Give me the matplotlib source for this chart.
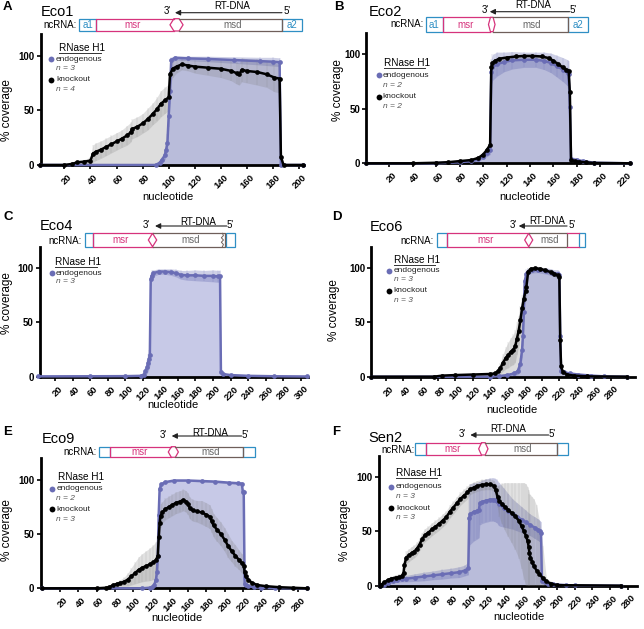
import numpy as np
import matplotlib
matplotlib.use('Agg')
import matplotlib.pyplot as plt
import matplotlib.transforms as mtransforms
from matplotlib.patches import Polygon, Rectangle

plt.rcParams['font.family'] = ['Liberation Sans', 'DejaVu Sans']

W, H = 644, 629

# ---------------- data: nucleotide position, mean % coverage, SD ----------------
# Eco1
eco1_ko_x = [1, 20, 26, 30, 35, 40, 42, 44, 48, 52, 56, 60, 64, 68, 71, 72, 76, 80, 84, 88, 91, 94, 97, 100,
             101, 103, 106, 110, 115, 120, 130, 140, 148, 152, 154, 156, 160, 168, 175, 181, 185, 186, 188, 203]
eco1_ko_y = [0, 0, 1, 2.5, 3, 4, 10.5, 12, 14, 16.5, 19, 21.5, 24, 27, 30, 33, 35, 38, 42, 47, 51, 56, 59, 62,
             83, 88, 90, 92, 91, 90, 89, 88, 86, 84, 83, 87, 86, 85, 83, 80, 79, 7.6, 0, 0]
eco1_ko_sd = [0, 0, 1, 1.5, 2, 3, 8, 8, 8, 8, 8, 8, 8, 9, 9, 9, 9, 9, 10, 10, 11, 12, 12, 12,
              10, 8, 6, 5, 5, 6, 7, 8, 9, 10, 10, 11, 11, 12, 12, 13, 13, 3, 0, 0]
eco1_en_x = [1, 90, 93, 95, 97, 98, 99, 100, 101, 102, 105, 115, 130, 150, 170, 180, 185, 186, 203]
eco1_en_y = [0, 0, 2, 5, 9, 14, 20, 45, 68, 96, 98, 97.5, 97, 96, 95, 94.5, 94, 0, 0]
eco1_en_sd = [0, 0, 1, 2, 4, 6, 8, 10, 12, 3, 2, 2, 2.5, 3, 3.5, 4, 4, 0, 0]

# Eco2
eco2_ko_x = [0, 40, 60, 70, 80, 90, 96, 100, 103, 106, 107, 108, 110, 114, 120, 128, 135, 142, 150, 156,
             160, 164, 168, 171, 173, 174, 175, 178, 182, 188, 195, 225]
eco2_ko_y = [0, 0, 0.5, 1, 2, 3, 5, 8, 12, 17, 88, 92, 94, 96, 97, 98, 98.5, 98.5, 98, 96.5,
             94, 91, 88, 86, 85, 65, 3, 2, 1.5, 0.8, 0.3, 0]
eco2_ko_sd = [0, 0, 0.3, 0.5, 0.8, 1, 1.5, 2, 2, 3, 3, 2.5, 2, 2, 1.5, 1.5, 1.5, 1.5, 1.5, 2,
              2, 2.5, 2.5, 2.5, 2.5, 5, 1, 1, 0.8, 0.5, 0.2, 0]
eco2_en_x = [0, 60, 80, 90, 96, 100, 103, 106, 107, 108, 112, 118, 125, 135, 145, 152, 158, 163, 168, 172,
             173, 174, 175, 180, 185, 195, 225]
eco2_en_y = [0, 0, 1, 2, 3.5, 6, 9, 12, 84, 88, 91, 93, 94.5, 95, 95, 94, 92, 89, 86, 83,
             82, 52, 4, 3, 2, 0.5, 0]
eco2_en_sd = [0, 0, 0.5, 1, 1.5, 2, 3, 4, 12, 12, 11, 9, 8, 7, 7, 8, 9, 10, 11, 12,
              12, 10, 2, 2, 1.5, 0.5, 0]

# Eco4
eco4_en_x = [1, 60, 100, 118, 121, 123, 125, 126, 127, 128, 129, 130, 132, 138, 145, 152, 158, 163, 170, 180,
             190, 200, 206, 208, 209, 211, 220, 240, 270, 307]
eco4_en_y = [0.3, 0.4, 0.5, 0.8, 2, 5, 9, 13, 16, 20, 90, 93, 95.5, 97, 97, 96.5, 95.5, 94, 93.5, 93.5,
             93, 93, 92.5, 92.5, 4.5, 2.5, 1.5, 0.8, 0.4, 0.2]
eco4_en_sd = [0.1, 0.1, 0.2, 0.3, 1, 3, 6, 8, 9, 10, 6, 5, 3, 2.5, 2.5, 3, 3.5, 4, 4.5, 5,
              5, 5.5, 5.5, 5.5, 1, 0.5, 0.3, 0.2, 0.1, 0.1]

# Eco6
eco6_ko_x = [3, 75, 85, 100, 120, 140, 146, 149, 152, 155, 158, 161, 164, 167, 169, 171, 173, 175, 177, 179,
             181, 182, 184, 187, 192, 198, 204, 210, 214, 218, 220, 221, 222, 224, 229, 237, 252, 298]
eco6_ko_y = [0, 0, 1, 1.5, 2, 2.5, 3, 5, 8, 13, 17, 20, 23, 25, 28, 35, 42, 52, 63, 72,
             79, 83, 97, 99.5, 100, 99.5, 98, 96.5, 95, 93.5, 92, 34, 9.5, 4.5, 2, 1, 0.3, 0]
eco6_ko_sd = [0, 0, 0.5, 0.5, 0.8, 1, 1.5, 3, 5, 8, 10, 12, 13, 14, 15, 15, 14, 13, 12, 10,
              8, 6, 3, 2, 2, 2, 2, 2.5, 2.5, 3, 3, 8, 3, 2, 1, 0.5, 0.2, 0]
eco6_en_x = [3, 140, 150, 160, 168, 172, 175, 177, 178, 179, 180, 182, 184, 188, 195, 205, 212, 218, 220, 221,
             222, 225, 232, 242, 257, 272, 298]
eco6_en_y = [0, 0, 0.5, 1.5, 3, 5, 12, 25, 38, 60, 88, 95, 97, 98, 98.5, 97.5, 96, 95, 94, 38,
             5, 4, 3, 2, 1, 0.3, 0]
eco6_en_sd = [0, 0, 0.3, 1, 2, 3, 5, 8, 10, 10, 8, 4, 3, 2.5, 2.5, 3, 3, 3.5, 3.5, 8,
              2, 2, 1.5, 1, 0.5, 0.2, 0]

# Eco9
eco9_ko_x = [0, 60, 70, 74, 78, 82, 86, 90, 94, 98, 102, 106, 110, 114, 118, 122, 125, 127, 128, 129,
             130, 132, 135, 139, 143, 147, 151, 155, 158, 160, 162, 165, 170, 175, 180, 184, 186, 188, 192, 196,
             200, 204, 208, 212, 216, 219, 221, 222, 223, 226, 230, 236, 245, 260, 275, 290]
eco9_ko_y = [0, 0, 0.5, 1, 3, 4, 5, 6, 8, 11, 14, 17, 19, 20.5, 22, 24, 26, 30, 47, 60,
             67, 70, 73, 75, 77, 79, 80, 81.5, 80, 78, 74, 72, 71, 70, 68, 66, 62, 58, 54, 50,
             45, 39, 34, 30, 26, 23, 21, 15, 11, 8, 5, 3, 2, 1, 0.5, 0]
eco9_ko_sd = [0, 0, 0.3, 0.5, 1, 2, 3, 4, 6, 8, 10, 12, 13, 14, 15, 16, 17, 17, 15, 12,
              11, 10, 10, 10, 10, 10, 10, 10, 10, 10, 10, 10, 10, 11, 11, 11, 11, 11, 11, 11,
              11, 11, 10, 10, 9, 9, 9, 5, 4, 3, 2, 1.5, 1, 0.5, 0.3, 0]
eco9_en_x = [0, 110, 118, 121, 123, 125, 126, 127, 128, 129, 131, 135, 145, 160, 175, 190, 205, 215, 219, 220,
             221, 222, 223, 226, 232, 240, 255, 290]
eco9_en_y = [0, 0, 0.5, 1, 3, 8, 15, 30, 68, 92, 96, 98, 99.5, 99.5, 99, 98.5, 97.5, 97, 96.5, 89,
             89, 4, 3, 2, 1, 0.5, 0, 0]
eco9_en_sd = [0, 0, 0.2, 0.5, 1, 2, 4, 6, 6, 3, 1.5, 1, 0.8, 0.8, 0.8, 1, 1, 1.2, 1.5, 3,
              3, 1, 0.8, 0.5, 0.3, 0.2, 0, 0]

# Sen2
sen2_ko_x = [0, 2, 5, 9, 13, 18, 22, 25, 27, 28, 30, 33, 36, 39, 42, 45, 48, 51, 55, 59,
             63, 67, 71, 75, 79, 83, 87, 91, 95, 99, 102, 106, 110, 115, 120, 125, 129, 131, 133, 135,
             138, 141, 145, 149, 153, 157, 160, 163, 165, 167, 168, 169, 170, 172, 174, 177, 180, 184, 188, 193,
             200, 272]
sen2_ko_y = [0, 1, 3, 5, 6.5, 7.5, 8, 8.5, 12, 19, 26, 28, 30, 31.5, 34, 38, 43, 46.5, 49, 52,
             54.5, 57, 60, 63, 68, 72, 76, 80, 83, 86, 89, 90.5, 92, 93, 93.5, 93.5, 92, 88, 82, 78,
             75.5, 73, 70, 67, 64, 60, 55, 50, 46, 41, 36, 30, 26, 22, 18, 14, 11, 7, 4, 2,
             0.5, 0]
sen2_ko_sd = [0, 0.5, 1, 1.5, 2, 2.5, 3, 3, 4, 5, 6, 6, 6, 6, 6, 6, 6, 6, 6, 6,
              6, 6, 6, 6, 6, 6, 6, 6, 6, 6, 5, 5, 5, 5, 5, 5, 5, 6, 10, 15,
              19, 22, 25, 28, 31, 35, 40, 45, 48, 50, 52, 55, 58, 60, 62, 60, 50, 30, 3, 2,
              0.5, 0]
sen2_en_x = [0, 5, 10, 15, 20, 25, 30, 40, 50, 60, 70, 80, 90, 96, 100, 101, 102, 106, 110, 112,
             113, 116, 120, 125, 128, 130, 132, 135, 140, 145, 150, 155, 160, 165, 170, 175, 179, 181, 182, 183,
             186, 190, 195, 200, 210, 220, 272]
sen2_en_y = [0, 1, 2.5, 4, 5, 6, 6.5, 7.5, 8.5, 9.5, 10.5, 11.5, 12.5, 14, 16, 62, 66, 68, 69, 70,
             76, 77.5, 78.5, 79.5, 79.5, 79, 78, 75, 72, 69, 66, 63.5, 61, 58.5, 56, 53.5, 51.5, 50, 49, 4,
             3, 2, 1.5, 1, 0.5, 0.2, 0]
sen2_en_sd = [0, 0.5, 1, 1.5, 2, 2.5, 3, 3.5, 4, 4, 4.5, 4.5, 5, 5, 6, 28, 28, 27, 26, 26,
              20, 20, 20, 20, 20, 20, 20, 20, 18, 16, 14, 13, 12, 11, 10, 10, 10, 10, 10, 2,
              1.5, 1, 0.8, 0.5, 0.3, 0.1, 0]

# ---------------- colours ----------------
ENDO = '#6a6db5'
ENDO_BAR = '#a2a6d8'
ENDO_ERR = '#5f64ad'
KO_BAR = '#b4b4b4'
KO_ERR = '#7a7a7a'
PINK = '#d6337c'
BLUE = '#2f8fc4'
BROWN = '#6f5f5a'

fig = plt.figure(figsize=(W / 100, H / 100), dpi=100)


def fx(px):
    return px / W


def fy(py):
    return 1 - py / H


def make_axes(left, right, top, bottom):
    return fig.add_axes([fx(left), fy(bottom), (right - left) / W, (bottom - top) / H])


def draw_bars(ax, x, y, color, z):
    ax.fill_between(x, 0, y, color=color, alpha=0.45 if color == KO_BAR else 0.6, lw=0, zorder=z)


def draw_err(ax, x, y, sd, color, z, alpha):
    y = np.asarray(y, float)
    sd = np.asarray(sd, float)
    lo = np.clip(y - sd, 0, None)
    hi = y + sd
    ax.fill_between(x, lo, hi, color=color, alpha=alpha, lw=0, zorder=z)
    ax.vlines(x, lo, hi, color=color, lw=0.35, alpha=0.35, zorder=z)


def draw_mean(ax, x, y, color, z):
    ax.plot(x, y, '-', color=color, lw=1.8, zorder=z, clip_on=False, solid_capstyle='round')
    ax.plot(x, y, 'o', color=color, ms=3.4, mec='none', zorder=z, clip_on=False)


def style_axes(ax, xlim, xt_max):
    ax.set_xlim(*xlim)
    ax.set_ylim(0, 120)
    ax.set_yticks([0, 50, 100])
    ax.set_xticks(np.arange(20, xt_max + 1, 20))
    for s in ['top', 'right']:
        ax.spines[s].set_visible(False)
    ax.spines['left'].set_linewidth(2)
    ax.spines['bottom'].set_linewidth(2)
    ax.tick_params(axis='y', length=3, width=1.2, pad=1.5, labelsize=7)
    ax.tick_params(axis='x', length=3, width=1.2, pad=1, labelsize=6.8)
    for lab in ax.get_yticklabels():
        lab.set_fontweight('bold')
    off = mtransforms.ScaledTranslation(3 / 100, -2 / 100, fig.dpi_scale_trans)
    for lab in ax.get_xticklabels():
        lab.set_rotation(45)
        lab.set_ha('right')
        lab.set_rotation_mode('anchor')
        lab.set_fontweight('bold')
        lab.set_transform(lab.get_transform() + off)


def draw_legend(ax, xdot, xtxt, xtitle, ys, ns, with_ko=True):
    ax.text(xtitle, ys[0], 'RNase H1', transform=ax.transAxes, fontsize=7.2, va='center', ha='left')
    ax.plot([xtitle, xtitle + 0.158], [ys[0] - 0.036] * 2, transform=ax.transAxes,
            color='#333333', lw=0.7, clip_on=False)
    rows = [('endogenous', ENDO, ys[1], ys[2], ns[0])]
    if with_ko:
        rows.append(('knockout', 'black', ys[3], ys[4], ns[1]))
    for lab, col, yl, yn, n in rows:
        ax.plot([xdot], [yl], 'o', ms=4.2, color=col, mec='none', transform=ax.transAxes, clip_on=False)
        ax.text(xtxt, yl, lab, transform=ax.transAxes, fontsize=6, va='center', ha='left', color='#222222')
        ax.text(xtxt, yn, f'n = {n}', transform=ax.transAxes, fontsize=6, va='center', ha='left',
                style='italic', color='#555555')


def draw_diagram(ax, seg, box_py, hex_frac, arrow, arrow_py, rt_py, ab_labels=False,
                 pink_tail=False, squiggle=False):
    tr = mtransforms.blended_transform_factory(ax.transData, fig.transFigure)
    yt, yb = fy(box_py[0]), fy(box_py[1])
    ym = (yt + yb) / 2
    s0, s1, s2, s3, s4, s5, s6 = seg
    kw = dict(transform=tr, clip_on=False)
    ax.add_patch(Rectangle((s0, yb), s1 - s0, yt - yb, fill=False, ec=BLUE, lw=0.9, **kw))
    ax.add_patch(Rectangle((s5, yb), s6 - s5, yt - yb, fill=False, ec=BLUE, lw=0.9, **kw))
    w = (s3 - s2) * hex_frac
    ax.plot([s2 + w, s1, s1, s2 + w], [yt, yt, yb, yb], color=PINK, lw=0.9, **kw)
    ax.add_patch(Polygon([(s2, ym), (s2 + w, yt), (s3 - w, yt), (s3, ym), (s3 - w, yb), (s2 + w, yb)],
                         closed=True, fill=False, ec=PINK, lw=0.9, **kw))
    ax.plot([s3 - w, s4, s4, s3 - w], [yt, yt, yb, yb], color=BROWN, lw=0.9, **kw)
    if pink_tail:
        ax.plot([s4, s5], [yt, yt], color=PINK, lw=0.9, **kw)
        ax.plot([s4, s5], [yb, yb], color=PINK, lw=0.9, **kw)
    if squiggle:
        zy = np.linspace(yt, yb, 7)
        zx = s4 - 3 + np.array([0, 1.2, -1.2, 1.2, -1.2, 1.2, 0])
        ax.plot(zx, zy, color=BROWN, lw=0.7, **kw)
        ax.plot([s4 + 0.8, s5], [yt, yt], color=BROWN, lw=0.9, **kw)
        ax.plot([s4 + 0.8, s5], [yb, yb], color=BROWN, lw=0.9, **kw)
    ax.text((s1 + s2) / 2, ym, 'msr', color=PINK, fontsize=7, ha='center', va='center', **kw)
    ax.text((s3 + s4) / 2, ym, 'msd', color='#666666', fontsize=7, ha='center', va='center', **kw)
    if ab_labels:
        ax.text((s0 + s1) / 2, ym, 'a1', color=BLUE, fontsize=7, ha='center', va='center', **kw)
        ax.text((s5 + s6) / 2, ym, 'a2', color=BLUE, fontsize=7, ha='center', va='center', **kw)
    head, tail, p3, p5, prt = arrow
    ya = fy(arrow_py)
    ax.annotate('', xy=(head, ya), xytext=(tail, ya), xycoords=tr, textcoords=tr,
                arrowprops=dict(arrowstyle='-|>', color='#222222', lw=0.8, mutation_scale=8,
                                shrinkA=0, shrinkB=0), annotation_clip=False)
    ax.text(p3, ya + 0.002, "3'", fontsize=7, ha='center', va='center', **kw)
    ax.text(p5, ya + 0.002, "5'", fontsize=7, ha='center', va='center', **kw)
    ax.text(prt, fy(rt_py), 'RT-DNA', fontsize=7, ha='center', va='center', **kw)


def panel_text(letter, lpos, name, tpos, nc_pos, ylab_pos, xlab_pos):
    fig.text(fx(lpos[0]), fy(lpos[1]), letter, fontsize=9.5, fontweight='bold', ha='left', va='center')
    fig.text(fx(tpos[0]), fy(tpos[1]), name, fontsize=10.5, ha='left', va='center')
    fig.text(fx(nc_pos[0]), fy(nc_pos[1]), 'ncRNA:', fontsize=7, ha='right', va='center')
    fig.text(fx(ylab_pos[0]), fy(ylab_pos[1]), '% coverage', fontsize=8.5, rotation=90, ha='center', va='center')
    fig.text(fx(xlab_pos[0]), fy(xlab_pos[1]), 'nucleotide', fontsize=8, ha='center', va='center')


def two_series(ax, ko, en):
    draw_bars(ax, ko[0], ko[1], KO_BAR, 1)
    draw_bars(ax, en[0], en[1], ENDO_BAR, 2)
    draw_err(ax, en[0], en[1], en[2], ENDO_ERR, 3, 0.3)
    draw_err(ax, ko[0], ko[1], ko[2], KO_ERR, 4, 0.22)
    draw_mean(ax, en[0], en[1], ENDO, 5)
    draw_mean(ax, ko[0], ko[1], 'black', 6)


# ---------------- A: Eco1 ----------------
ax = make_axes(40.7, 304, 33.8, 165)
two_series(ax, (eco1_ko_x, eco1_ko_y, eco1_ko_sd), (eco1_en_x, eco1_en_y, eco1_en_sd))
style_axes(ax, (1.9, 203.7), 200)
draw_legend(ax, 0.039, 0.058, 0.07, [0.89, 0.806, 0.737, 0.648, 0.579], [3, 4])
draw_diagram(ax, [31.3, 44.3, 101, 111, 186.8, 186.8, 202.1], (18.7, 31), 0.3,
             (104.8, 186.8, 98.7, 190.7, 148.5), 12.7, 6, ab_labels=True)
panel_text('A', (3, 7.5), 'Eco1', (41, 12.5), (77, 24.7), (7, 110), (168.3, 196.7))

# ---------------- B: Eco2 ----------------
ax = make_axes(366.3, 630, 32.5, 163.3)
two_series(ax, (eco2_ko_x, eco2_ko_y, eco2_ko_sd), (eco2_en_x, eco2_en_y, eco2_en_sd))
style_axes(ax, (0.4, 225.3), 220)
draw_legend(ax, 0.049, 0.062, 0.066, [0.765, 0.673, 0.597, 0.509, 0.438], [2, 2])
draw_diagram(ax, [51.2, 65.4, 104.6, 110.2, 172.7, 172.7, 189.7], (17.3, 31.7), 0.3,
             (105.7, 173.8, 101.7, 177, 142.9), 11.7, 5, ab_labels=True)
panel_text('B', (334, 7.5), 'Eco2', (368.7, 11.7), (423.7, 24.3), (337.8, 90), (525.3, 196.7))

# ---------------- C: Eco4 ----------------
ax = make_axes(40, 308.3, 246.6, 376.7)
draw_bars(ax, eco4_en_x, eco4_en_y, ENDO_BAR, 2)
draw_err(ax, eco4_en_x, eco4_en_y, eco4_en_sd, ENDO_ERR, 3, 0.3)
draw_mean(ax, eco4_en_x, eco4_en_y, ENDO, 5)
style_axes(ax, (2.8, 308.6), 300)
draw_legend(ax, 0.044, 0.06, 0.056, [0.879, 0.795, 0.73], [3], with_ko=False)
draw_diagram(ax, [54.1, 62.9, 126.3, 135.8, 213.7, 214.5, 225], (233.3, 246.7), 0.5,
             (133.9, 215.6, 124.4, 219.4, 183.3), 226, 221.7, squiggle=True)
panel_text('C', (3, 217.5), 'Eco4', (40, 226), (81.7, 240.7), (7, 303), (173.3, 405))

# ---------------- D: Eco6 ----------------
ax = make_axes(371.3, 635, 246.6, 376.7)
two_series(ax, (eco6_ko_x, eco6_ko_y, eco6_ko_sd), (eco6_en_x, eco6_en_y, eco6_en_sd))
style_axes(ax, (3, 307.3), 280)
draw_legend(ax, 0.066, 0.085, 0.085, [0.897, 0.815, 0.749, 0.659, 0.584], [3, 3])
draw_diagram(ax, [78.8, 90.4, 180, 189.3, 228.9, 242.4, 250], (233.3, 246.7), 0.5,
             (173.1, 228.9, 167.3, 234.6, 205.8), 226, 221, pink_tail=True)
panel_text('D', (332, 217.5), 'Eco6', (370, 227.3), (433.7, 240.7), (333.7, 310), (512, 410))

# ---------------- E: Eco9 ----------------
ax = make_axes(40.7, 306.7, 458.3, 588.3)
two_series(ax, (eco9_ko_x, eco9_ko_y, eco9_ko_sd), (eco9_en_x, eco9_en_y, eco9_en_sd))
style_axes(ax, (-1.1, 289.9), 280)
draw_legend(ax, 0.041, 0.058, 0.066, [0.854, 0.764, 0.687, 0.607, 0.533], [2, 3])
draw_diagram(ax, [63, 74.7, 138.5, 149.5, 219.9, 219.9, 233.4], (446.7, 457.3), 0.3,
             (142.2, 218.8, 133, 222.4, 184.1), 436, 433.3)
panel_text('E', (3, 432), 'Eco9', (41.7, 439.3), (96.7, 452.3), (7, 530), (176.7, 618.3))

# ---------------- F: Sen2 ----------------
ax = make_axes(378.7, 637, 455.6, 585.7)
two_series(ax, (sen2_ko_x, sen2_ko_y, sen2_ko_sd), (sen2_en_x, sen2_en_y, sen2_en_sd))
style_axes(ax, (-1, 290.2), 280)
draw_legend(ax, 0.048, 0.067, 0.067, [0.864, 0.761, 0.684, 0.595, 0.526], [3, 3])
draw_diagram(ax, [40.2, 52.3, 111.7, 122.2, 200, 200, 212.4], (442.7, 455), 0.3,
             (102.3, 190.6, 92.9, 194.4, 145.5), 435, 429.3)
panel_text('F', (332, 432), 'Sen2', (368.7, 437.5), (414.7, 450), (345.3, 530), (518.7, 616.7))

fig.savefig('out.png', dpi=100)
